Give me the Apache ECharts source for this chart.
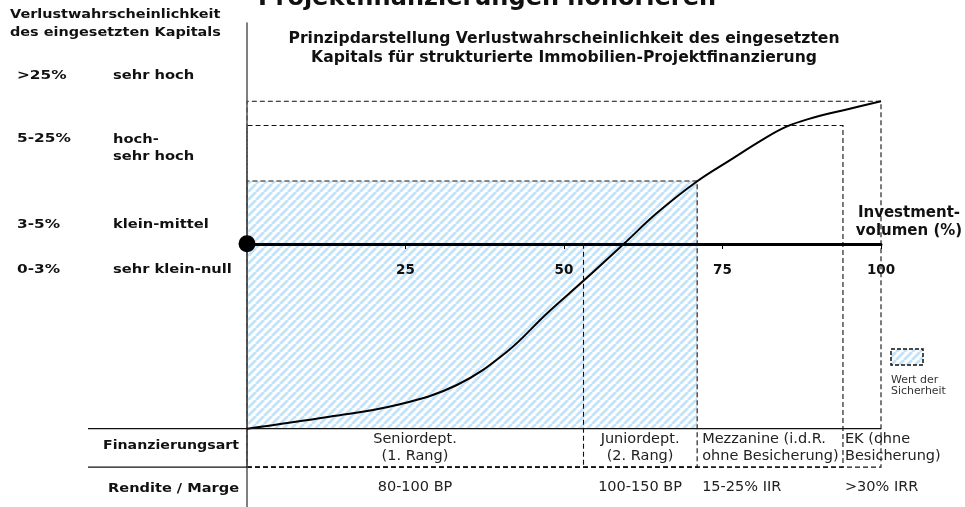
<!DOCTYPE html>
<html>
<head>
<meta charset="utf-8">
<script src="https://cdn.jsdelivr.net/npm/echarts@6/dist/echarts.min.js"></script>
<style>
html, body { margin: 0; padding: 0; background: #fff; }
#chart { width: 965px; height: 507px; }
</style>
</head>
<body>
<div id="chart"></div>
<script>
// Verlustkurve: x = Investmentvolumen (%), y = relative Verlustwahrscheinlichkeit (0 = Achse)
const curveX = [0, 13, 23.6, 33.1, 41, 47.3, 53.2, 59.4, 64.6, 70.9, 76.2, 81.4, 85, 88.5, 94.6, 100];
const curveY = [-130, -121.6, -113.4, -99.3, -75.9, -49, -25.6, -0.3, 21.3, 43.5, 58.7, 73.3, 82, 87.5, 94.3, 100];

// Tranchen (Grenzen in % Investmentvolumen)
const trancheBounds = [0, 53, 71, 94, 100];
const trancheNames = ['Seniordept.\n(1. Rang)', 'Juniordept.\n(2. Rang)', 'Mezzanine (i.d.R.\nohne Besicherung)', 'EK (ohne\nBesicherung)'];
const trancheReturns = ['80-100 BP', '100-150 BP', '15-25% IIR', '>30% IRR'];

// gestrichelte Kästen: rechte Kante / Oberkante
const boxRight = [71, 94, 100];
const boxTop = [44, 83, 100];
const collateralRight = 71;   // Wert der Sicherheit
const collateralTop = 44;

// Verlustwahrscheinlichkeit (Beschriftung links)
const riskRanges = ['>25%', '5-25%', '3-5%', '0-3%'];
const riskLabels = ['sehr hoch', 'hoch-\nsehr hoch', 'klein-mittel', 'sehr klein-null'];

const FONT = 'DejaVu Sans';
const ROW_TOP = -130, ROW_MID = -157, ROW_BOTTOM = -185;

function hatch() {
    const c = document.createElement('canvas');
    c.width = 8; c.height = 8;
    const ctx = c.getContext('2d');
    ctx.strokeStyle = '#c2e3fa';
    ctx.lineWidth = 2.8;
    for (const o of [-8, 0, 8]) {
        ctx.beginPath();
        ctx.moveTo(o, 8);
        ctx.lineTo(o + 8, 0);
        ctx.stroke();
    }
    return c;
}
const pattern = { type: 'pattern', image: hatch(), repeat: 'repeat' };
const dashed = { color: 'transparent', borderColor: '#111', borderWidth: 1.1, borderType: [5, 3] };

const areas = [];
// Sicherheit (schraffiert)
areas.push([{ coord: [0, ROW_TOP], itemStyle: { color: pattern, borderWidth: 0 } }, { coord: [collateralRight, collateralTop] }]);
// gestrichelte Kästen
boxRight.forEach((r, i) => {
    areas.push([{ coord: [0, ROW_MID], itemStyle: dashed }, { coord: [r, boxTop[i]] }]);
});
// Tabelle: Finanzierungsart + Rendite
trancheNames.forEach((n, i) => {
    const left = i >= 2;
    const lbl = {
        show: true,
        position: left ? 'insideLeft' : 'inside',
        distance: i === 3 ? 2 : 5,
        formatter: '{b}',
        fontFamily: FONT, fontSize: 14.5, color: '#222', lineHeight: 16.5
    };
    areas.push([{ name: n, coord: [trancheBounds[i], ROW_TOP], itemStyle: { color: 'transparent' }, label: lbl },
                { coord: [trancheBounds[i + 1], ROW_MID] }]);
    areas.push([{ name: trancheReturns[i], coord: [trancheBounds[i], ROW_MID], itemStyle: { color: 'transparent' }, label: lbl },
                { coord: [trancheBounds[i + 1], ROW_BOTTOM] }]);
});

function txt(x, y, text, o) {
    return {
        type: 'text', x: x, y: y, scaleX: o.sx || 1, z: 20,
        style: {
            text: text, fontFamily: FONT, fontSize: o.fs, fontWeight: o.fw || 'bold',
            fill: o.fill || '#111', align: o.align || 'left', verticalAlign: 'middle', lineHeight: o.lh || o.fs
        }
    };
}

const graphics = [
    txt(487, -1, 'Projektfinanzierungen honorieren', { fs: 24, align: 'center' }),
    txt(564, 48.5, 'Prinzipdarstellung Verlustwahrscheinlichkeit des eingesetzten\nKapitals für strukturierte Immobilien-Projektfinanzierung', { fs: 15, sx: 1.04, align: 'center', lh: 19 }),
    txt(10, 23.5, 'Verlustwahrscheinlichkeit\ndes eingesetzten Kapitals', { fs: 13, sx: 1.11, lh: 17.5 }),
    txt(239, 446, 'Finanzierungsart', { fs: 13, sx: 1.09, align: 'right' }),
    txt(239, 489, 'Rendite / Marge', { fs: 13, sx: 1.12, align: 'right' }),
    { type: 'rect', shape: { x: 891, y: 349, width: 32, height: 16 }, z: 20, style: { fill: pattern, stroke: '#111', lineWidth: 1.5, lineDash: [4, 2] } },
    txt(891, 386, 'Wert der\nSicherheit', { fs: 10.5, sx: 1.04, fw: 'normal', fill: '#333', lh: 11.5 })
];
const riskY = [76, 148, 225, 270];
riskRanges.forEach((r, i) => {
    graphics.push(txt(17, i === 1 ? 139 : riskY[i], r, { fs: 13, sx: 1.18, lh: 17.5 }));
    graphics.push(txt(113, riskY[i], riskLabels[i], { fs: 13, sx: 1.13, lh: 17.5 }));
});

const chart = echarts.init(document.getElementById('chart'));
chart.setOption({
    animation: false,
    grid: [
        { left: 247, right: 84, top: 23, bottom: 0, containLabel: false, outerBoundsMode: 'none' },
        // nur für die sichtbare Investmentvolumen-Achse (Unterkante = y 0)
        { left: 247, right: 84, top: 23, height: 221, containLabel: false, outerBoundsMode: 'none' }
    ],
    xAxis: [
        { type: 'value', gridIndex: 0, min: 0, max: 100, show: false },
        {
            type: 'value', gridIndex: 1, min: 0, max: 100, interval: 25, position: 'bottom', z: 3,
            axisLine: { show: true, onZero: false, lineStyle: { color: '#000', width: 3 } },
            axisTick: { show: true, length: 5, lineStyle: { color: '#000', width: 1 } },
            axisLabel: { show: true, showMinLabel: false, margin: 19, fontFamily: FONT, fontWeight: 'bold', fontSize: 13.5, color: '#111' },
            splitLine: { show: false },
            name: 'Investment-\nvolumen (%)', nameLocation: 'end', nameGap: 28,
            nameTextStyle: { fontFamily: FONT, fontWeight: 'bold', fontSize: 15, color: '#111', align: 'center', verticalAlign: 'bottom', lineHeight: 18, padding: [0, 0, 4, 0] }
        }
    ],
    yAxis: [
        {
            type: 'value', gridIndex: 0, min: ROW_BOTTOM, max: 155, z: 3,
            axisLine: { show: true, onZero: false, lineStyle: { color: '#555', width: 1.5 } },
            axisTick: { show: false }, axisLabel: { show: false }, splitLine: { show: false }
        },
        { type: 'value', gridIndex: 1, show: false }
    ],
    series: [
        {
            type: 'line', xAxisIndex: 0, yAxisIndex: 0,
            data: curveX.map((x, i) => [x, curveY[i]]),
            smooth: 0.4, symbol: 'none', silent: true,
            lineStyle: { color: '#000', width: 2 },
            markArea: { silent: true, data: areas },
            markLine: {
                silent: true, symbol: ['none', 'none'], label: { show: false },
                lineStyle: { color: '#111', width: 1.1, type: [5, 3] },
                data: [[{ coord: [trancheBounds[1], 0] }, { coord: [trancheBounds[1], ROW_MID] }]]
            }
        },
        {
            type: 'scatter', xAxisIndex: 0, yAxisIndex: 0, data: [[0, 0]], symbolSize: 17, silent: true, z: 10,
            itemStyle: { color: '#000', opacity: 1 }
        }
    ],
    graphic: graphics
});

// Tabellenlinien links neben der Grafik bis zum Ende der Achse
const pTop = chart.convertToPixel({ gridIndex: 0 }, [100, ROW_TOP]);
const pMid = chart.convertToPixel({ gridIndex: 0 }, [0, ROW_MID]);
graphics.push({ type: 'line', z: 20, shape: { x1: 88, y1: pTop[1], x2: pTop[0], y2: pTop[1] }, style: { stroke: '#111', lineWidth: 1.2 } });
graphics.push({ type: 'line', z: 20, shape: { x1: 88, y1: pMid[1], x2: pMid[0], y2: pMid[1] }, style: { stroke: '#111', lineWidth: 1.2 } });
chart.setOption({ graphic: graphics });
</script>
</body>
</html>
